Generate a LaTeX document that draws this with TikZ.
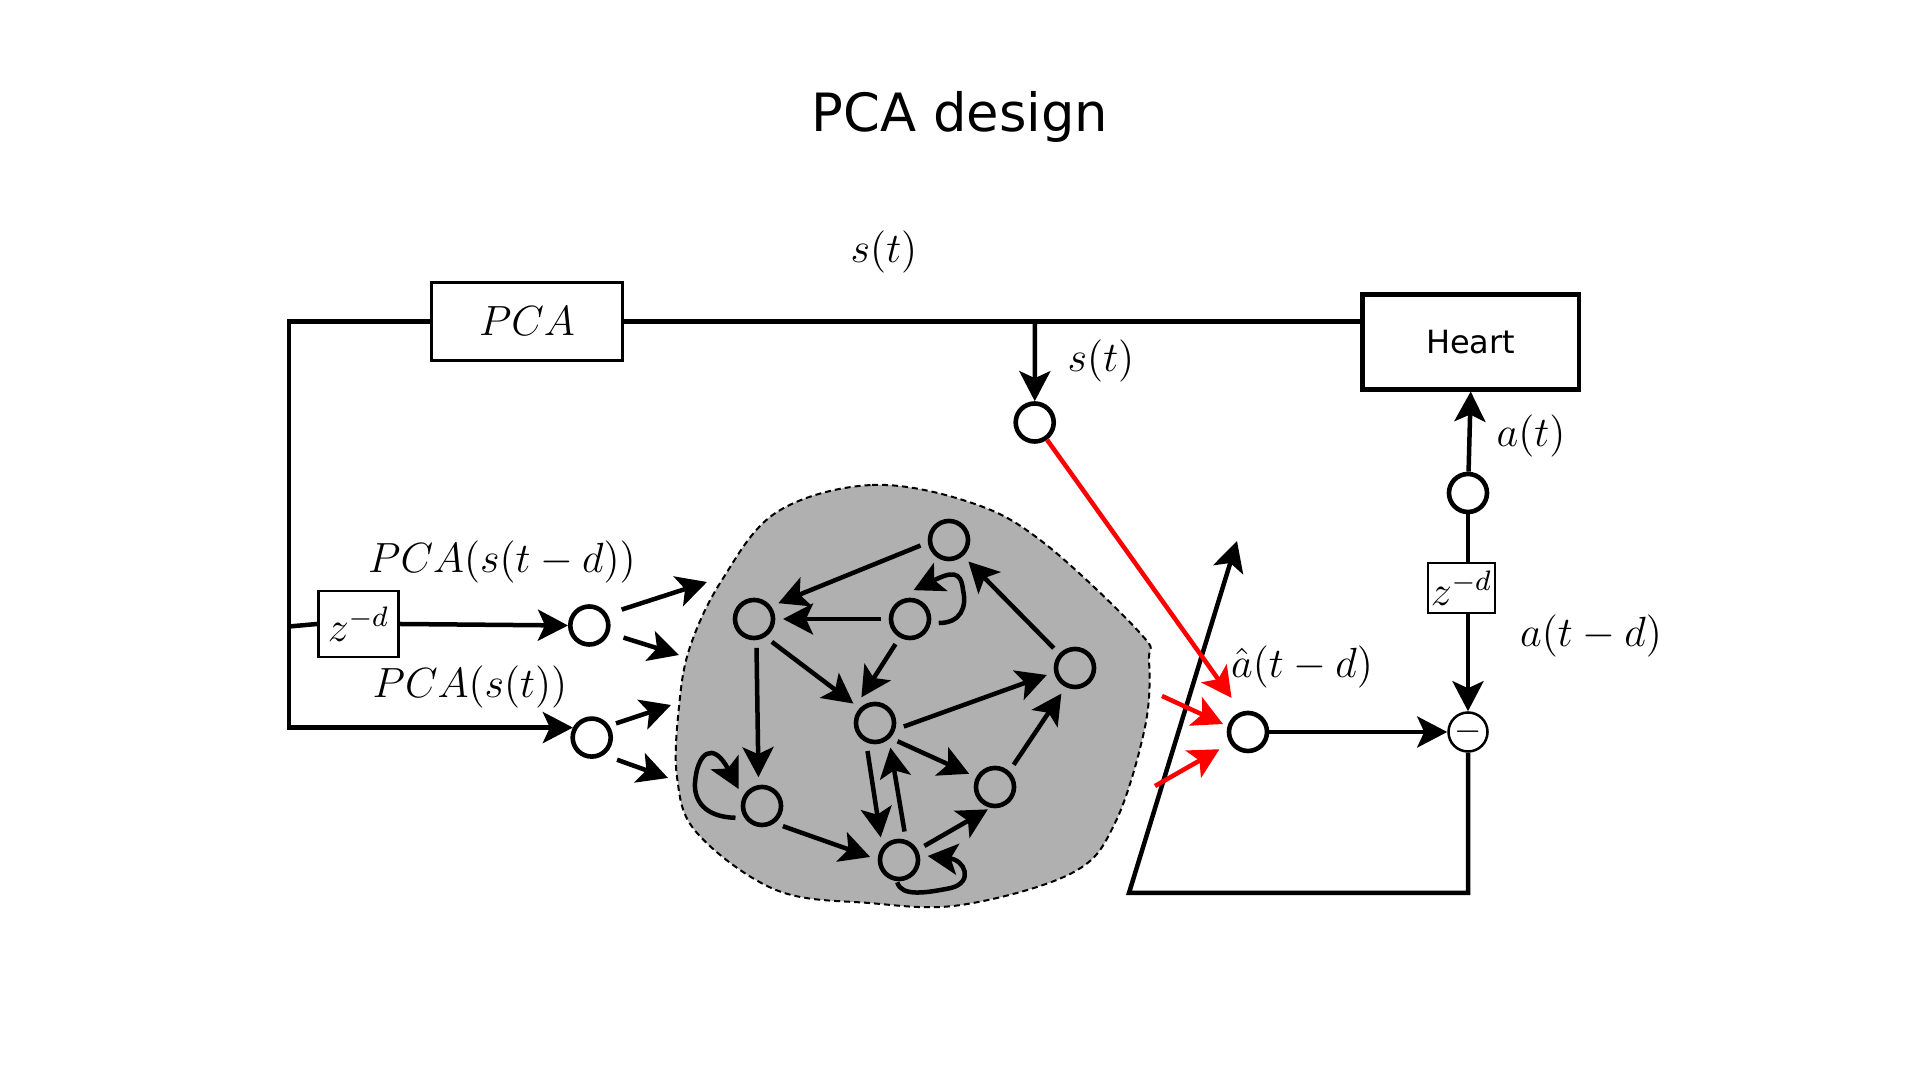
\documentclass[tikz,border=0pt]{standalone}
\usepackage{fontspec}
\newfontfamily\labelfont{DejaVu Sans}
\usetikzlibrary{arrows.meta, positioning}
\definecolor{blob_gray}{RGB}{176,176,176}
\tikzset{
    unit_node/.style={draw=black, circle, line width=0.046cm, minimum size=0.38cm, inner sep=0pt},
    net_node/.style={unit_node, outer sep=0.1cm},
    minus_node/.style={draw=black, circle, line width=0.025cm, minimum size=0.39cm, inner sep=0pt},
    thin_box/.style={rectangle, text centered, align=center, draw=black, line width=0.028cm, inner sep=0pt},
    heavy_box/.style={rectangle, text centered, align=center, draw=black, line width=0.045cm, inner sep=0pt},
    math_label/.style={font=\large, inner sep=0pt},
    line/.style={line width=0.045cm},
    arrow/.style={line, -{Stealth[length=0.3cm, width=0.31cm, inset=0.07cm]}},
    red_arrow/.style={arrow, draw=red},
    reservoir_blob/.style={fill=blob_gray, draw=black, line width=0.02cm, dash pattern=on 0.06cm off 0.04cm},
}
\begin{document}
\begin{tikzpicture}[x=0.01cm, y=-0.01cm]
      \useasboundingbox (0,0) rectangle (1920,1080);
      \node (title) [font=\labelfont\fontsize{15}{18}\selectfont, anchor=base, inner sep=0pt] at (960,132)
          {PCA design};

      %%%%%%%%%%%%%
      % Reservoir %
      %%%%%%%%%%%%%
      \draw [reservoir_blob] plot [smooth cycle, tension=0.6] coordinates {
          (777,512) (872,485) (972,503) (1044,543) (1140,633) (1149,660) (1145,727)
          (1115,823) (1072,873) (961,905) (869,903) (776,890) (697,833) (677,777)
          (679,707) (690,647) (722,580)};

      \node (n1) [net_node] at (949,540) {};
      \node (n2) [net_node] at (754,619) {};
      \node (n3) [net_node] at (910,619) {};
      \node (n4) [net_node] at (1075,668) {};
      \node (n5) [net_node] at (875,723) {};
      \node (n6) [net_node] at (995,787) {};
      \node (n7) [net_node] at (762,806) {};
      \node (n8) [net_node] at (899,860) {};

      \draw [arrow] (n1.191) -- (n2.33);
      \draw [arrow] (n3.180) -- (n2.0);
      \draw [arrow] (n3.240) -- (n5.118);
      \draw [arrow] (n2.-52) -- (n5.138);
      \draw [arrow] (n2.275) -- (n7.97);
      \draw [arrow] (n5.-7) -- (n4.194);
      \draw [arrow] (n4.137) -- (n1.-48);
      \draw [arrow] (n6.50) -- (n4.242);
      \draw [arrow] (n5.-39) -- (n6.153);
      \draw [arrow] (n5.255) -- (n8.129);
      \draw [arrow] (n8.79) -- (n5.-58);
      \draw [arrow, shorten >=-0.07cm] (n8.29) -- (n6.243);
      \draw [arrow] (n7.-44) -- (n8.174);

      % self loops
      \draw [arrow] (n3.-8) .. controls (961,623) and (967,607) .. (963,590)
          .. controls (961,570) and (951,572) .. (n3.83);
      \draw [arrow] (n7.204) .. controls (704,817) and (694,800) .. (695,783)
          .. controls (697,753) and (713,740) .. (n7.144);
      \draw [arrow, shorten <=-0.07cm] (n8.270) .. controls (901,897) and (926,893) .. (951,888)
          .. controls (974,882) and (965,860) .. (n8.8);

      %%%%%%%%%%
      % Inputs %
      %%%%%%%%%%
      \node (pca) [thin_box, minimum width=1.91cm, minimum height=0.78cm, font=\large] at (527,321.5)
          {$PCA$};
      \node (heart) [heavy_box, minimum width=2.165cm, minimum height=0.945cm, font=\labelfont\fontsize{9.1}{11}\selectfont] at (1470.7,342)
          {Heart};
      \node (zs) [thin_box, minimum width=0.8cm, minimum height=0.66cm, font=\large] at (358.5,624)
          {$z^{-d}$};
      \node (u1) [unit_node] at (589.3,625.5) {};
      \node (u2) [unit_node] at (591.7,737.6) {};
      \coordinate (top_left) at (289,321.5);
      \coordinate (z_tap) at (289,626.5);
      \coordinate (in1a) at (707,582);
      \coordinate (in1b) at (679,655);
      \coordinate (in2a) at (671,705);
      \coordinate (in2b) at (668,778);

      \draw [line] (pca.east) -- (heart.west |- pca.east);
      \draw [arrow] (pca.west) -- (top_left) -- (top_left |- u2.152) -- (u2.152);
      \draw [line] (z_tap) -- (zs.west);
      \draw [arrow] (zs.east) -- (u1.west);
      \draw [arrow, shorten <=0.15cm] (u1.32) -- (in1a);
      \draw [arrow, shorten <=0.15cm] (u1.-21) -- (in1b);
      \draw [arrow, shorten <=0.07cm] (u2.34) -- (in2a);
      \draw [arrow, shorten <=0.14cm] (u2.-55) -- (in2b);

      \node (lab_st) [math_label] at (884,252) {$s(t)$};
      \node (lab_pd) [math_label] at (502,562) {$PCA(s(t-d))$};
      \node (lab_ps) [math_label] at (470,687) {$PCA(s(t))$};

      %%%%%%%%%%%
      % Readout %
      %%%%%%%%%%%
      \coordinate (tap) at (1035,321.5);
      \node (s) [unit_node] at (1034.7,422.5) {};
      \node (r) [unit_node] at (1248,732) {};
      \node (a) [unit_node] at (1468,493) {};
      \node (zd) [thin_box, minimum width=0.67cm, minimum height=0.5cm, font=\large] at (1461.5,588)
          {$z^{-d}$};
      \node (minus) [minus_node] at (1468,732) {$-$};
      \coordinate (perc_corner) at (1468,893);
      \coordinate (perc_base) at (1129,893);
      \coordinate (perc_tip) at (1237,541);
      \coordinate (res_a) at (1162,696);
      \coordinate (res_b) at (1155,786);

      \draw [arrow] (tap) -- (s);
      \draw [arrow] (a) -- (heart.south);
      \draw [line] (a) -- (a |- zd.north);
      \draw [arrow] (a |- zd.south) -- (minus);
      \draw [arrow] (r) -- (minus);
      \draw [arrow] (minus) -- (perc_corner) -- (perc_base) -- (perc_tip);
      \draw [red_arrow, shorten >=0.17cm] (s) -- (r.108);
      \draw [red_arrow, shorten >=0.05cm] (res_a) -- (r.164);
      \draw [red_arrow, shorten >=0.12cm] (res_b) -- (r.212);

      \node (lab_st2) [math_label] at (1101,361) {$s(t)$};
      \node (lab_at) [math_label] at (1531,436) {$a(t)$};
      \node (lab_atd) [math_label] at (1591,636) {$a(t-d)$};
      \node (lab_hat) [math_label] at (1302,667) {$\hat{a}(t-d)$};

    \end{tikzpicture}
\end{document}
